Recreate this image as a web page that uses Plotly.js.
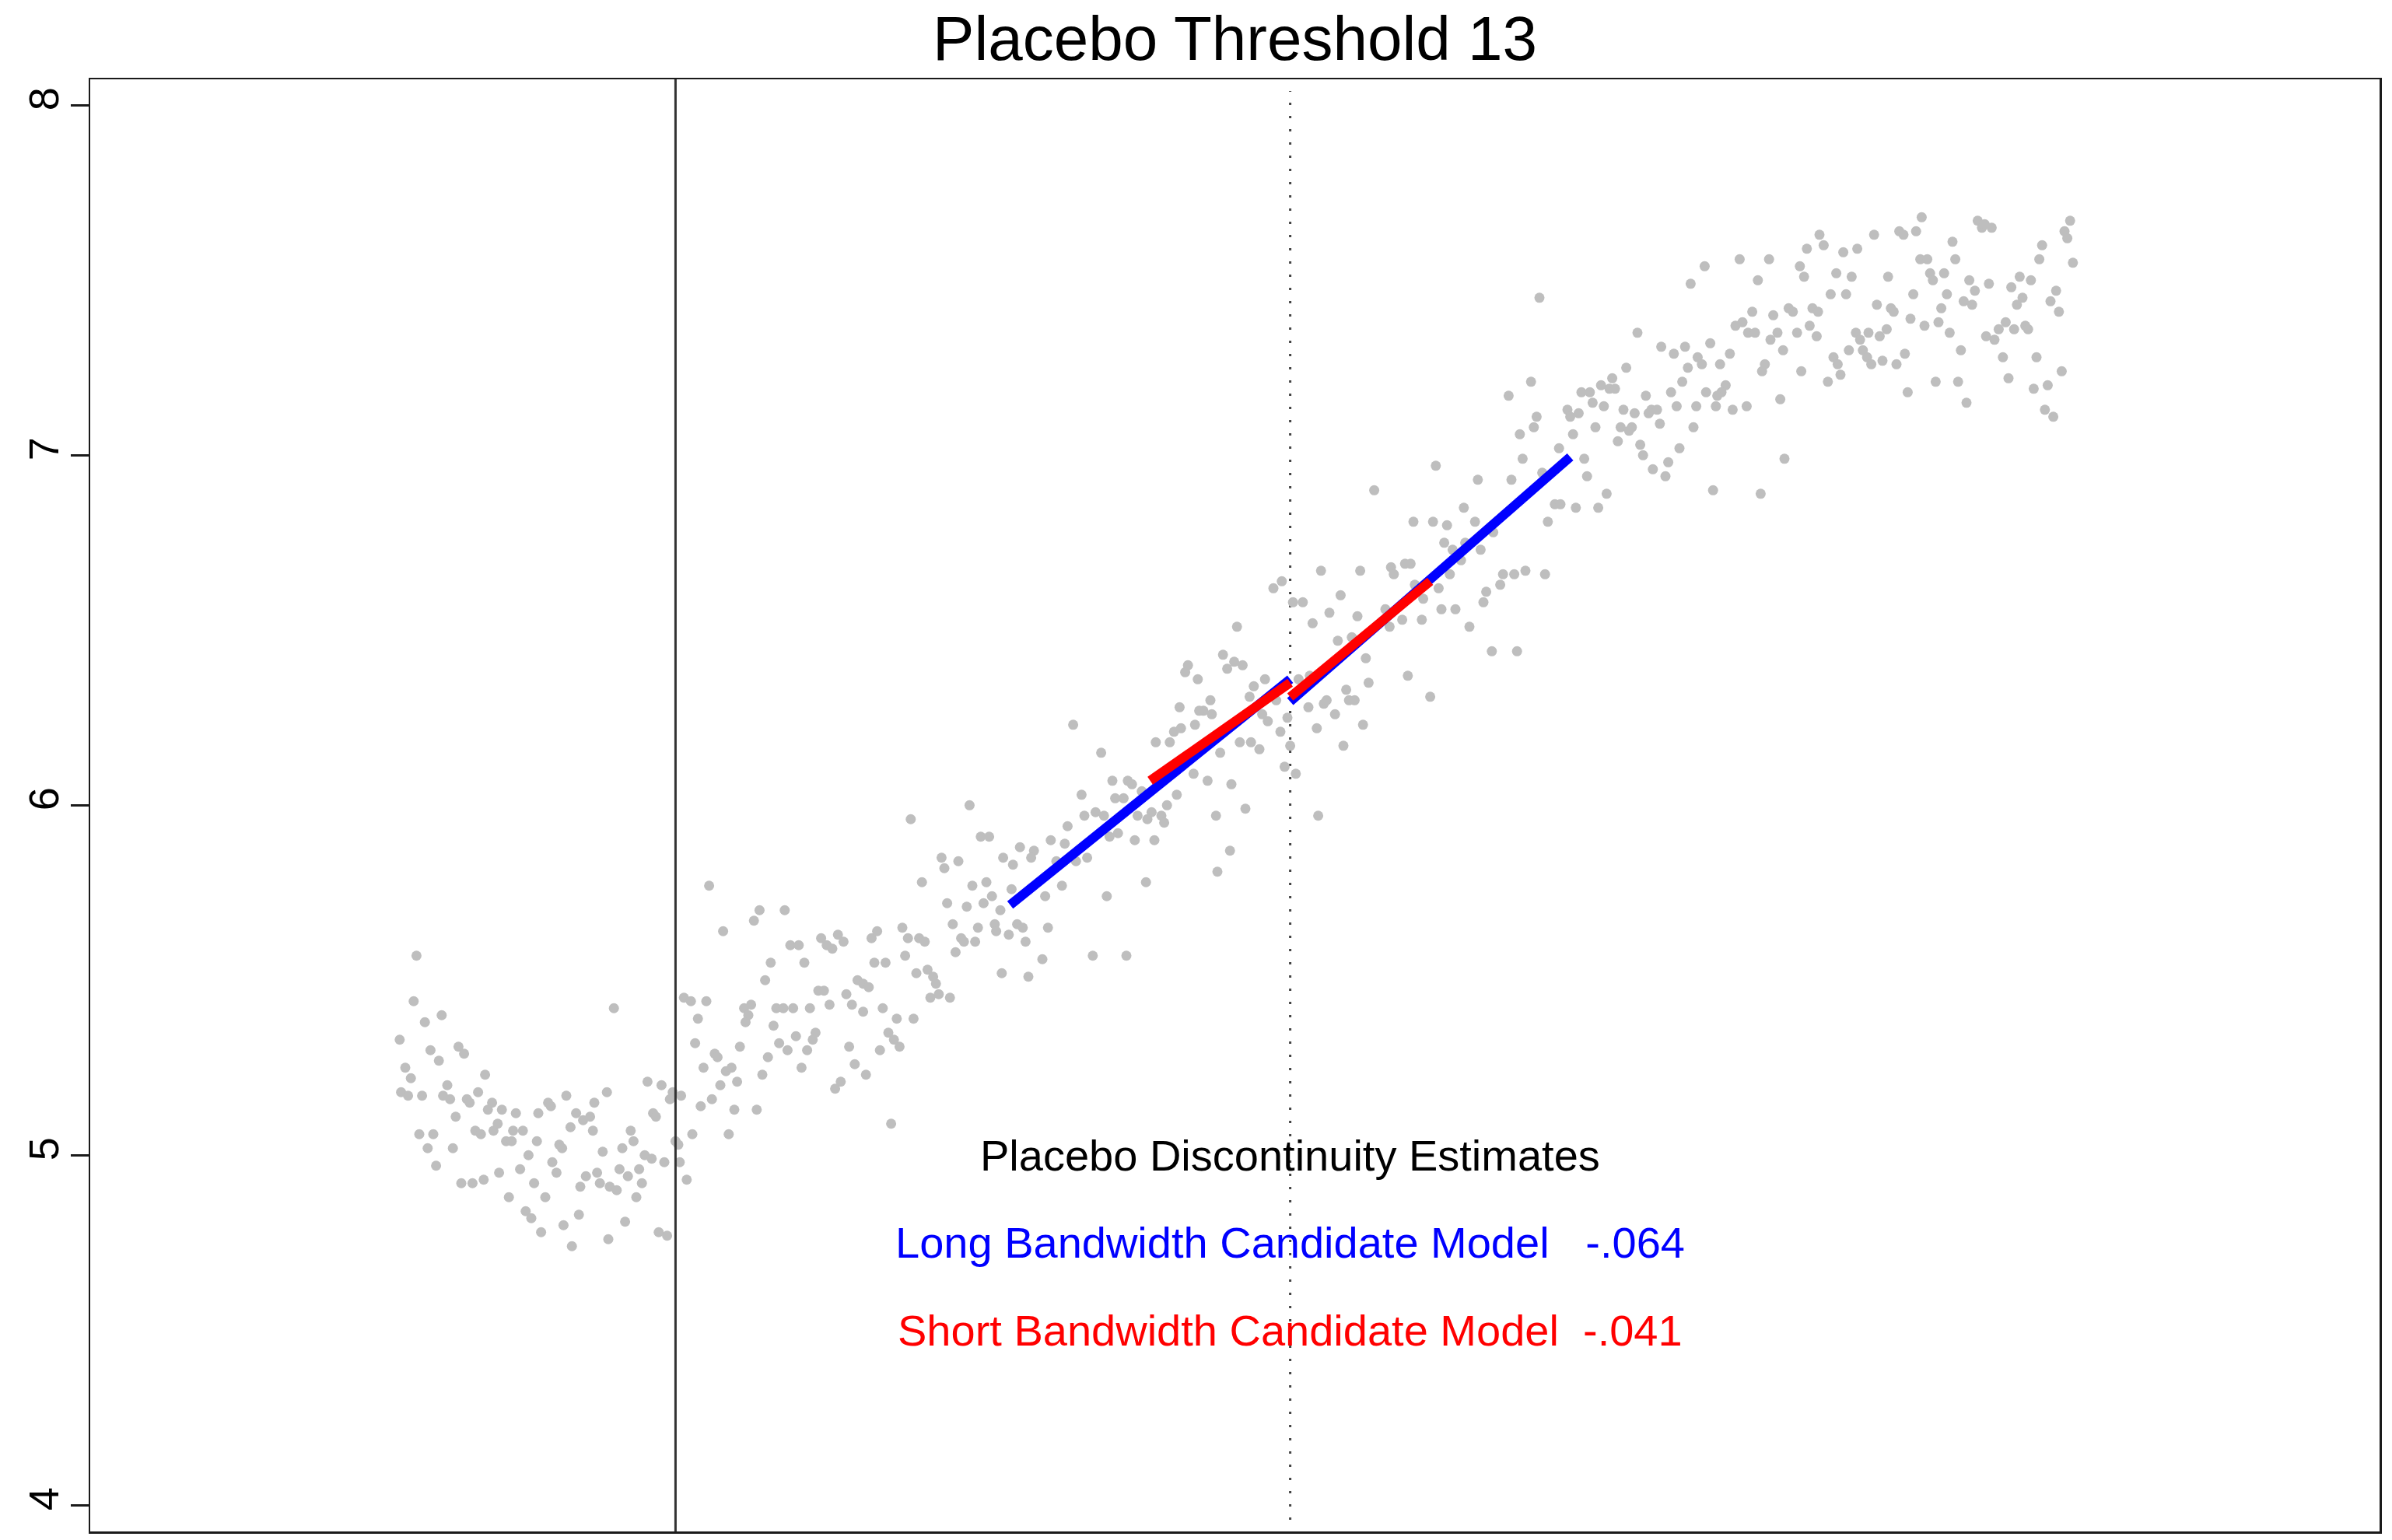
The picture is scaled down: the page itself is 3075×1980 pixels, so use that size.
<!DOCTYPE html>
<html>
<head>
<meta charset="utf-8">
<script src="https://cdn.plot.ly/plotly-3.0.1.min.js"></script>
<style>html,body{margin:0;padding:0;background:#fff;}#chart{width:3075px;height:1980px;}</style>
</head>
<body>
<div id="chart"></div>
<script>
// ---------- data ----------
const chartTitle = 'Placebo Threshold 13';
const placeboCutoff = 13;      // dotted line
const actualCutoff = 8.61;     // solid line
const yTicks = [4, 5, 6, 7, 8];
const xRange = [4.43, 20.78];
const yRange = [3.925, 8.074];

// scatter, segment A (left of solid line)
const xA = [6.76,6.74,6.82,6.94,6.64,6.86,6.92,7.06,7.10,6.68,
6.72,6.98,7.25,6.65,6.70,6.80,6.95,7.00,7.20,7.12,
7.14,7.30,7.27,7.37,7.47,7.04,6.78,6.88,7.18,7.22,
7.31,7.34,7.45,7.52,6.84,7.02,6.90,7.40,7.44,7.62,
7.56,7.63,7.70,7.72,7.83,7.90,7.86,7.95,8.00,8.03,
8.12,8.02,7.78,7.80,7.73,7.76,7.50,7.35,7.08,7.16,
7.24,7.60,7.42,7.68,7.54,7.58,7.65,7.81,7.92,7.87,
7.97,7.93,8.05,8.07,8.09,8.14,8.19,8.21,8.23,8.27,
8.29,8.31,8.39,8.44,8.35,8.37,8.33,8.25,8.13,8.49,
8.55,8.53,8.45,8.47,8.41,8.51,8.59,8.57,8.61,8.17];
const yA = [5.57,5.44,5.38,5.40,5.33,5.30,5.27,5.31,5.29,5.25,
5.22,5.20,5.23,5.18,5.17,5.17,5.17,5.16,5.18,5.16,
5.15,5.15,5.13,5.13,5.12,5.11,5.06,5.06,5.07,5.06,
5.07,5.09,5.07,5.07,5.02,5.02,4.97,5.04,5.04,5.04,
5.00,5.12,5.15,5.14,5.17,5.12,5.08,5.10,5.11,5.15,
5.18,5.07,5.03,5.02,4.98,4.95,4.96,4.95,4.92,4.92,
4.93,4.92,4.88,4.88,4.84,4.82,4.78,4.80,4.83,4.74,
4.94,4.91,4.95,4.92,5.01,4.91,4.90,4.96,5.02,4.94,
5.07,5.04,5.00,4.99,4.96,4.92,4.88,4.81,4.76,4.78,
4.77,4.98,5.12,5.11,5.21,5.20,5.18,5.16,5.04,5.42];

// segment B
const xB = [8.85,8.95,9.17,9.21,9.39,9.29,9.25,9.43,9.49,9.53,
9.65,9.69,9.73,9.77,9.81,10.01,10.05,10.03,10.11,10.23,
10.27,10.25,10.35,10.39,10.37,10.51,10.63,10.53,10.73,10.83,
10.87,10.55,10.69,10.81,10.93,10.59,10.77,10.89,10.90,10.65,
10.67,10.75,10.61,10.94,10.33,10.41,10.45,10.47,10.49,10.43,
10.57,9.91,9.95,9.99,9.83,9.87,9.63,9.67,9.71,9.57,
9.45,9.33,9.38,9.95,10.09,10.19,10.31,10.13,10.17,10.21,
10.07,9.85,9.89,9.97,9.79,9.75,10.15,8.67,8.72,8.83,
8.77,9.10,9.15,9.13,9.11,9.31,9.47,9.61,9.59,9.55,
9.35,9.41,9.07,8.75,8.89,8.91,8.81,8.97,9.01,9.05,
8.93,9.27,9.23,9.51,8.87,8.79,9.03,9.19,8.65,8.73,
8.99,8.63,8.64,8.69,10.29,10.71,10.79,10.85];
const yB = [5.77,5.64,5.67,5.70,5.70,5.55,5.50,5.60,5.60,5.55,
5.62,5.60,5.59,5.63,5.61,5.62,5.64,5.55,5.55,5.65,
5.62,5.57,5.62,5.61,5.78,5.85,5.84,5.82,5.77,5.78,
5.74,5.72,5.71,5.72,5.70,5.66,5.65,5.66,5.64,5.62,
5.61,5.61,5.58,5.52,5.52,5.53,5.51,5.49,5.46,5.45,
5.45,5.50,5.49,5.48,5.46,5.43,5.47,5.47,5.43,5.42,
5.42,5.42,5.42,5.41,5.42,5.39,5.39,5.35,5.33,5.31,
5.30,5.31,5.26,5.23,5.21,5.19,5.09,5.45,5.44,5.44,
5.39,5.42,5.43,5.40,5.38,5.37,5.34,5.35,5.33,5.30,
5.32,5.30,5.31,5.32,5.29,5.28,5.25,5.24,5.25,5.21,
5.20,5.28,5.23,5.25,5.16,5.14,5.13,5.13,5.17,5.06,
5.06,5.03,4.98,4.93,5.96,6.00,5.91,5.91];

// segment C
const xC = [12.52,12.55,12.60,12.66,12.27,12.25,12.34,12.82,13.06,13.14,
12.74,12.71,12.43,12.21,12.38,12.35,12.44,12.90,12.80,12.84,
12.98,13.13,13.24,13.26,13.19,12.93,11.45,12.17,12.22,12.32,
12.04,12.14,12.64,12.72,12.78,12.50,13.00,12.96,13.04,11.65,
12.31,12.41,12.58,11.73,11.84,11.87,11.51,11.75,11.81,12.19,
12.12,12.01,12.08,11.98,12.10,11.91,12.47,12.68,13.20,11.61,
11.67,11.53,11.41,11.77,11.71,11.89,12.03,11.29,11.39,11.07,
11.17,11.15,11.02,11.33,11.47,11.55,10.95,12.57,12.48,11.97,
11.37,11.01,11.25,11.69,11.05,11.09,10.99,11.27,11.11,11.23,
11.59,11.83,11.13,11.94];
const yC = [6.43,6.39,6.41,6.40,6.40,6.38,6.36,6.36,6.36,6.37,
6.34,6.31,6.30,6.28,6.27,6.27,6.26,6.30,6.26,6.24,
6.25,6.28,6.29,6.30,6.22,6.21,6.23,6.21,6.22,6.23,
6.18,6.18,6.18,6.18,6.16,6.15,6.17,6.11,6.09,6.15,
6.09,6.07,6.06,6.07,6.07,6.06,6.03,6.02,6.02,6.03,
6.00,5.98,5.97,5.96,5.95,5.97,5.97,5.99,5.97,5.98,
5.97,5.97,5.94,5.92,5.91,5.90,5.90,5.90,5.89,5.88,
5.87,5.85,5.83,5.84,5.84,5.85,5.85,5.87,5.81,5.78,
5.77,5.76,5.74,5.74,5.66,5.65,5.63,5.65,5.61,5.56,
5.57,5.57,5.51,6.04];

// segment D
const xD = [12.62,12.88,12.94,13.02,13.09,13.16,13.22,14.78,14.72,14.56,
14.76,14.74,14.64,14.66,14.04,14.34,14.58,14.80,14.92,
13.60,14.24,13.88,14.02,14.12,14.32,14.10,14.16,14.36,14.25,
14.45,14.84,14.89,14.93,14.22,13.50,13.72,13.74,13.82,13.86,
14.14,14.06,13.89,14.52,14.60,14.68,14.82,14.50,14.40,14.38,
13.36,13.28,13.48,13.68,13.80,13.94,14.08,14.18,13.95,13.71,
14.28,13.34,13.44,13.54,13.84,13.56,13.40,13.42,13.46,13.32,
13.52,14.00,13.38,14.44,14.62];
const yD = [6.51,6.62,6.64,6.58,6.58,6.52,6.67,7.45,7.21,7.17,
7.11,7.08,7.06,6.99,6.97,6.93,6.93,6.95,7.02,
6.90,6.85,6.81,6.81,6.80,6.81,6.75,6.73,6.73,6.75,
6.78,6.81,6.86,6.86,6.70,6.67,6.68,6.66,6.69,6.69,
6.66,6.62,6.63,6.66,6.66,6.67,6.66,6.63,6.61,6.58,
6.60,6.55,6.54,6.56,6.53,6.53,6.56,6.56,6.59,6.51,
6.51,6.47,6.48,6.42,6.37,6.35,6.33,6.30,6.30,6.26,
6.23,6.31,6.17,6.44,6.44];

// segment E
const xE = [15.96,15.86,16.21,16.42,16.64,16.67,16.34,16.30,16.45,16.56,
16.59,16.73,16.77,16.18,16.23,16.27,16.32,16.43,16.48,16.62,
16.71,16.76,16.52,15.48,15.65,15.82,16.00,15.74,15.91,15.94,
15.84,16.07,16.14,16.39,16.37,16.65,15.40,15.30,15.22,15.28,
15.32,15.80,15.72,15.97,16.11,16.08,16.05,16.50,15.08,15.14,
15.16,15.24,15.38,15.46,15.54,15.58,15.62,15.56,15.76,15.90,
16.04,16.16,16.26,14.98,15.00,15.06,15.18,15.36,15.44,15.42,
15.64,15.88,15.02,15.34,15.50,15.52,15.78,15.10,15.70,15.59,
15.68,15.12,15.26,15.20,15.04,16.02,16.36,16.53,16.69];
const yE = [7.54,7.49,7.56,7.56,7.54,7.51,7.50,7.41,7.40,7.42,
7.41,7.42,7.41,7.37,7.38,7.35,7.35,7.33,7.35,7.35,
7.37,7.34,7.30,7.35,7.31,7.31,7.32,7.29,7.28,7.26,
7.25,7.26,7.29,7.26,7.24,7.24,7.25,7.22,7.20,7.19,
7.19,7.21,7.18,7.18,7.20,7.18,7.17,7.16,7.18,7.18,
7.15,7.14,7.13,7.12,7.17,7.13,7.13,7.12,7.14,7.14,
7.14,7.13,7.14,7.13,7.11,7.12,7.08,7.08,7.08,7.07,
7.09,7.08,7.06,7.04,7.03,7.00,7.02,6.99,6.98,6.96,
6.94,6.94,6.89,6.85,6.85,6.90,6.89,6.99,7.59];

// segment F
const xF = [17.51,17.91,17.94,17.96,18.01,18.57,18.53,18.55,18.37,18.35,
18.59,16.78,16.81,16.95,17.05,17.17,17.35,17.38,17.47,17.73,
17.50,17.55,17.75,16.90,17.01,17.27,17.57,17.59,17.67,17.85,
17.99,18.21,18.29,18.15,18.23,18.19,18.47,18.43,18.49,16.86,
16.97,17.45,17.69,17.89,17.81,17.87,17.65,17.19,17.29,17.31,
17.43,17.53,17.63,17.04,17.13,17.07,17.21,17.26,17.71,18.06,
18.11,18.17,18.25,18.27,17.97,18.03,16.88,16.91,16.93,16.99,
17.09,17.12,17.15,17.23,17.33,17.39,17.79,18.09,18.33,18.51,
16.84,17.61,17.77,18.13,18.31,18.41,17.41,17.83,18.39,18.45];
const yF = [7.68,7.67,7.65,7.66,7.65,7.67,7.64,7.62,7.60,7.56,
7.55,7.63,7.60,7.58,7.59,7.63,7.64,7.63,7.64,7.61,
7.56,7.56,7.56,7.52,7.51,7.51,7.52,7.50,7.52,7.50,
7.49,7.51,7.50,7.48,7.45,7.43,7.47,7.44,7.41,7.46,
7.46,7.46,7.46,7.47,7.44,7.43,7.42,7.43,7.42,7.41,
7.39,7.37,7.38,7.35,7.35,7.33,7.34,7.36,7.35,7.36,
7.38,7.36,7.37,7.36,7.34,7.33,7.28,7.26,7.23,7.30,
7.30,7.28,7.26,7.27,7.26,7.29,7.30,7.28,7.28,7.24,
7.21,7.21,7.21,7.22,7.19,7.20,7.18,7.15,7.13,7.11];

// fitted local-linear lines
const longLeftX = [11, 13],  longLeftY = [5.715, 6.36];
const longRightX = [13, 15], longRightY = [6.296, 6.995];
const shortLeftX = [12, 13], shortLeftY = [6.07, 6.35];
const shortRightX = [13, 14], shortRightY = [6.309, 6.64];

// legend text
const estHeader = 'Placebo Discontinuity Estimates';
const longLabel = 'Long Bandwidth Candidate Model', longEst = '-.064';
const shortLabel = 'Short Bandwidth Candidate Model', shortEst = '-.041';
const textY = [5.0, 4.75, 4.5];

// ---------- build ----------
const FONT = 'Liberation Sans, Arial, Helvetica, sans-serif';
const NB = '\u00A0';
const ptsX = [].concat(xA, xB, xC, xD, xE, xF);
const ptsY = [].concat(yA, yB, yC, yD, yE, yF);

const traces = [
  {type:'scatter', mode:'markers', x:ptsX, y:ptsY, hoverinfo:'skip',
   marker:{color:'#BEBEBE', size:13, line:{width:0}}},
  {type:'scatter', mode:'lines', x:longLeftX, y:longLeftY, line:{color:'#0000FF', width:12}},
  {type:'scatter', mode:'lines', x:longRightX, y:longRightY, line:{color:'#0000FF', width:12}},
  {type:'scatter', mode:'lines', x:shortLeftX, y:shortLeftY, line:{color:'#FF0000', width:12}},
  {type:'scatter', mode:'lines', x:shortRightX, y:shortRightY, line:{color:'#FF0000', width:12}}
];

const layout = {
  width:3075, height:1980,
  margin:{l:116, r:16, t:102, b:11, pad:0},
  paper_bgcolor:'#ffffff', plot_bgcolor:'#ffffff',
  showlegend:false,
  font:{family:FONT, color:'#000'},
  title:{text:chartTitle, font:{family:FONT, size:80, color:'#000'},
         x:0.5, xref:'paper', xanchor:'center', y:1-49/1980, yref:'container', yanchor:'middle'},
  xaxis:{range:xRange, showgrid:false, zeroline:false, showticklabels:false, ticks:'',
         showline:true, mirror:true, linecolor:'#1a1a1a', linewidth:2.5, fixedrange:true},
  yaxis:{range:yRange, showgrid:false, zeroline:false, tickvals:yTicks, ticktext:yTicks.map(String),
         ticks:'outside', ticklen:23, tickwidth:2.5, tickcolor:'#1a1a1a', tickangle:-90,
         tickfont:{family:FONT, size:54, color:'#000'}, ticklabelstandoff:-6,
         showline:true, mirror:true, linecolor:'#1a1a1a', linewidth:2.5, fixedrange:true},
  shapes:[
    {type:'line', xref:'x', yref:'paper', x0:actualCutoff, x1:actualCutoff, y0:0, y1:1,
     line:{color:'#333333', width:3}, layer:'above'},
    {type:'line', xref:'x', yref:'paper', x0:placeboCutoff, x1:placeboCutoff, y0:0.008, y1:0.992,
     line:{color:'#444444', width:3, dash:'3px,14px'}, layer:'below'}
  ],
  annotations:[
    {xref:'x', yref:'y', x:placeboCutoff, y:textY[0], text:estHeader, showarrow:false,
     xanchor:'center', yanchor:'middle', font:{family:FONT, size:56, color:'#000'}},
    {xref:'x', yref:'y', x:placeboCutoff, y:textY[1], text:longLabel+NB+NB+NB+longEst, showarrow:false,
     xanchor:'center', yanchor:'middle', font:{family:FONT, size:56, color:'#0000FF'}},
    {xref:'x', yref:'y', x:placeboCutoff, y:textY[2], text:shortLabel+NB+NB+shortEst, showarrow:false,
     xanchor:'center', yanchor:'middle', font:{family:FONT, size:56, color:'#FF0000'}}
  ]
};

Plotly.newPlot('chart', traces, layout, {staticPlot:true, displayModeBar:false});
</script>
</body>
</html>
